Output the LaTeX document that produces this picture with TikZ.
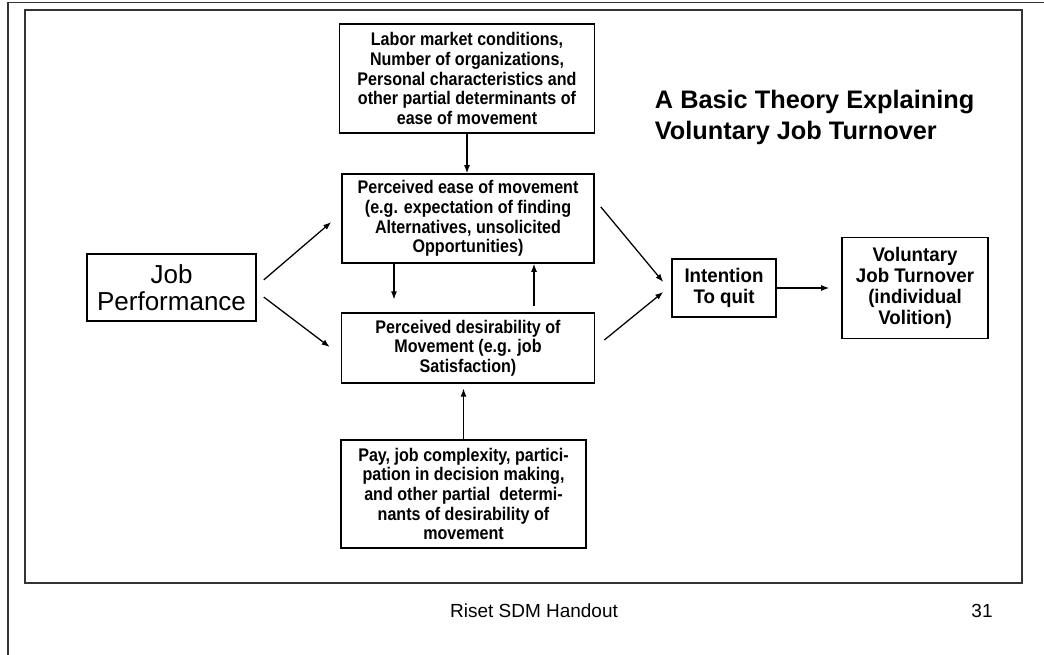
\documentclass[tikz,border=0pt]{standalone}
\usepackage{fontspec}
\setmainfont{Liberation Sans}
\newfontfamily\narrowfont[FakeStretch=0.88]{Liberation Sans}
\newfontfamily\midfont[FakeStretch=0.95]{Liberation Sans}
\usetikzlibrary{arrows.meta}

\begin{document}
\begin{tikzpicture}[>={Latex[length=2mm,width=1.5mm]}, x=0.025cm, y=-0.025cm,
  box/.style={draw, line width=1.1pt, align=center, inner sep=0pt,
    font=\narrowfont\bfseries\fontsize{13}{14}\selectfont},
  midbox/.style={box, font=\midfont\bfseries\fontsize{14}{15}\selectfont},
  frame/.style={line width=1.3pt, black!80},
  arr/.style={->, line width=0.9pt}]
\useasboundingbox (0,0) rectangle (1044,655);
\draw[frame] (8,655) -- (8,2.5) -- (1044,2.5);
\draw[frame] (25,10) rectangle (1022,583);
\node[box, minimum width=6.375cm, minimum height=2.725cm] (labor) at (467,78.5)
  {Labor market conditions,\\ Number of organizations,\\ Personal characteristics and\\ other partial determinants of\\ ease of movement};
\node[box, minimum width=6.3cm, minimum height=2.225cm] (ease) at (468,218.5)
  {Perceived ease of movement\\ (e.g. expectation of finding\\ Alternatives, unsolicited\\ Opportunities)};
\node[box, minimum width=6.325cm, minimum height=1.75cm] (desire) at (468,348)
  {Perceived desirability of\\ Movement (e.g. job\\ Satisfaction)};
\node[box, minimum width=6.125cm, minimum height=2.7cm] (pay) at (463.5,494)
  {Pay, job complexity, partici-\\ pation in decision making,\\ and other partial\ \ determi-\\ nants of desirability of\\ movement};
\node[box, minimum width=4.225cm, minimum height=1.675cm, font=\fontsize{18.5}{19}\selectfont] (perf) at (171.5,287.5)
  {Job\\ Performance};
\node[midbox, minimum width=2.6cm, minimum height=1.45cm] (intent) at (724,288)
  {Intention\\ To quit};
\node[midbox, minimum width=3.65cm, minimum height=2.525cm] (turnover) at (915,288)
  {Voluntary\\ Job Turnover\\ (individual\\ Volition)};
\node[anchor=base west, align=left, font=\bfseries\fontsize{18}{22.7}\selectfont] (title) at (650,140)
  {A Basic Theory Explaining\\ Voluntary Job Turnover};
\node[anchor=base, font=\fontsize{13.5}{15}\selectfont] (footer) at (534,617) {Riset SDM Handout};
\node[anchor=base, font=\fontsize{13.5}{15}\selectfont] (pagenum) at (982,617) {31};
\draw[arr] (labor.south) -- (labor.south |- ease.north);
\draw[arr] ([xshift=-1.85cm]ease.south) -- ([xshift=-1.85cm,yshift=0.32cm]desire.north);
\draw[arr] ([xshift=1.65cm,yshift=0.15cm]desire.north) -- ([xshift=1.65cm]ease.south);
\draw[arr, shorten >=0.12cm] (pay.north) -- (pay.north |- desire.south);
\draw[arr] ([xshift=0.175cm,yshift=0.19cm]perf.east) -- ([xshift=-0.25cm,yshift=-0.09cm]ease.west);
\draw[arr] ([xshift=0.175cm,yshift=-0.24cm]perf.east) -- ([xshift=-0.275cm,yshift=0.025cm]desire.west);
\draw[arr] ([xshift=0.15cm,yshift=0.29cm]ease.east) -- ([xshift=-0.2cm,yshift=0.15cm]intent.west);
\draw[arr] ([xshift=0.225cm,yshift=0.2cm]desire.east) -- ([xshift=-0.2cm,yshift=-0.1cm]intent.west);
\draw[arr] (intent.east) -- ([xshift=-0.3cm]turnover.west);
\end{tikzpicture}
\end{document}
